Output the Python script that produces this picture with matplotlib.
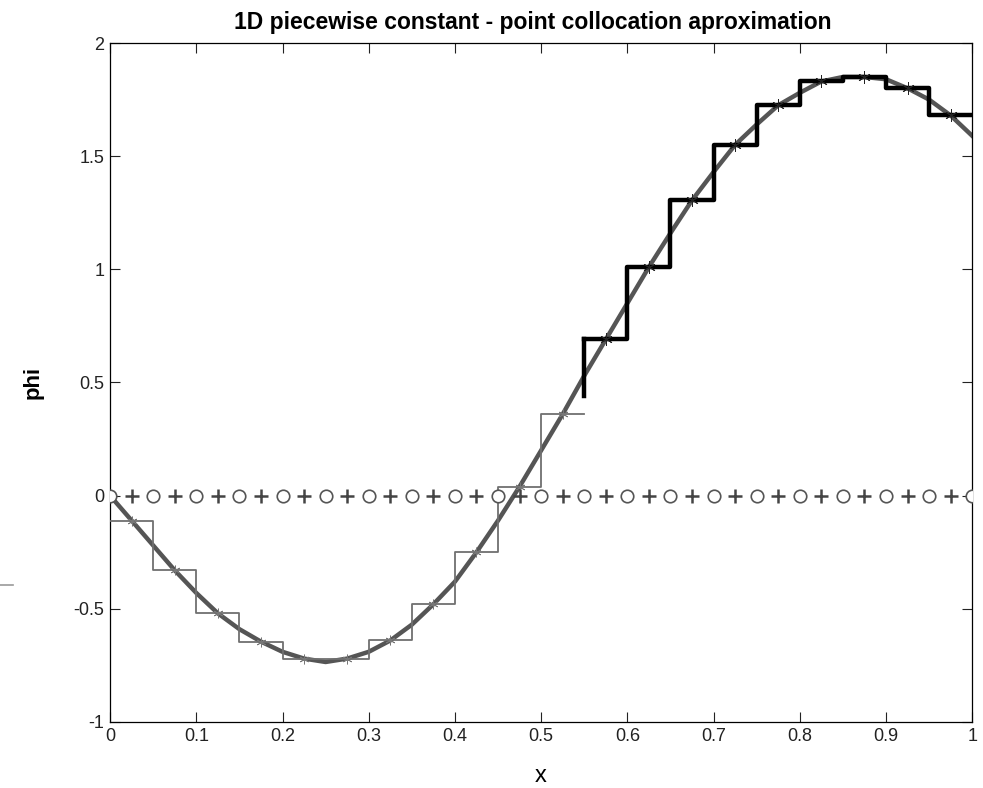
import matplotlib.pyplot as plt
import matplotlib.lines as mlines
import numpy as np

plt.rcParams['font.family'] = ['Liberation Sans', 'DejaVu Sans']

# element nodes and midpoints (collocation points)
nodes = [0.0, 0.05, 0.1, 0.15, 0.2, 0.25, 0.3, 0.35, 0.4, 0.45, 0.5,
         0.55, 0.6, 0.65, 0.7, 0.75, 0.8, 0.85, 0.9, 0.95, 1.0]
mids = [0.025, 0.075, 0.125, 0.175, 0.225, 0.275, 0.325, 0.375, 0.425, 0.475,
        0.525, 0.575, 0.625, 0.675, 0.725, 0.775, 0.825, 0.875, 0.925, 0.975]

# exact solution read at nodes and midpoints
exact_nodes = [0.0, -0.22, -0.43, -0.59, -0.69, -0.735, -0.69, -0.57, -0.38, -0.11, 0.2,
               0.53, 0.85, 1.16, 1.43, 1.64, 1.78, 1.85, 1.84, 1.75, 1.59]
# piecewise constant approximation (value of each element)
phi_pc = [-0.11, -0.33, -0.52, -0.645, -0.72, -0.72, -0.64, -0.48, -0.25, 0.04,
          0.36, 0.69, 1.01, 1.305, 1.55, 1.725, 1.83, 1.85, 1.80, 1.68]

# merge exact points into one sorted series
x_ex = np.array(nodes + mids)
y_ex = np.array(exact_nodes + phi_pc)
order = np.argsort(x_ex)
x_ex, y_ex = x_ex[order], y_ex[order]

fig = plt.figure(figsize=(9.83, 7.88), dpi=100)
ax = fig.add_axes([0.112, 0.0838, 0.877, 0.8616])

ax.plot(x_ex, y_ex, color='#555555', lw=3.2, zorder=2)

# step function: lower part faint, upper part thick black
split = 11
xs_lo = nodes[:split + 1]
ys_lo = phi_pc[:split] + [phi_pc[split - 1]]
ax.step(xs_lo, ys_lo, where='post', color='#707070', lw=1.3, zorder=3)
xs_hi = nodes[split:]
ys_hi = phi_pc[split:] + [phi_pc[-1]]
ax.step(xs_hi, ys_hi, where='post', color='black', lw=3.2, zorder=3)
ax.plot([nodes[split], nodes[split]], [0.44, phi_pc[split]], color='black', lw=3.2, zorder=3)

ax.plot(mids[:split], phi_pc[:split], ls='none', marker=(6, 2, 0), ms=7, mew=0.6,
        color='#777777', zorder=4)
ax.plot(mids[split:], phi_pc[split:], ls='none', marker=(6, 2, 0), ms=9, mew=0.7,
        color='#222222', zorder=4)

# nodes and collocation points on the x axis
ax.plot(nodes, np.zeros(len(nodes)), ls='none', marker='o', ms=9, mfc='white',
        mec='#555555', mew=1.2, zorder=4)
ax.plot(mids, np.zeros(len(mids)), ls='none', marker='+', ms=10, mec='#444444',
        mew=1.8, zorder=4)

ax.set_xlim(0, 1)
ax.set_ylim(-1, 2)
ax.set_xticks(np.arange(0, 1.01, 0.1))
ax.set_xticklabels(['0', '0.1', '0.2', '0.3', '0.4', '0.5', '0.6', '0.7', '0.8', '0.9', '1'])
ax.set_yticks([-1, -0.5, 0, 0.5, 1, 1.5, 2])
ax.set_yticklabels(['-1', '-0.5', '0', '0.5', '1', '1.5', '2'])
ax.tick_params(direction='in', length=7, top=True, right=True, labelsize=13,
               colors='#222222', pad=4)
for s in ax.spines.values():
    s.set_linewidth(0.9)

ax.set_title('1D piecewise constant - point collocation aproximation',
             fontsize=16.5, fontweight='bold', pad=10, x=0.49)
ax.set_xlabel('x', fontsize=17, labelpad=15)
ax.set_ylabel('phi', fontsize=16, fontweight='bold', labelpad=22)

fig.add_artist(mlines.Line2D([0.0, 0.013], [0.2576, 0.2576], color='#999999', lw=1.2))

fig.savefig('out.png', dpi=100)
